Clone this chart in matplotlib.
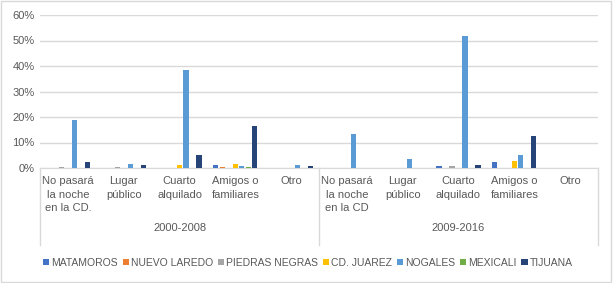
import numpy as np
import matplotlib.pyplot as plt
from matplotlib.transforms import blended_transform_factory
from matplotlib.ticker import PercentFormatter

plt.rcParams['font.family'] = ['Liberation Sans', 'DejaVu Sans']

# categories (two periods x five places)
categories = ["No pasará\nla noche\nen la CD.", "Lugar\npúblico", "Cuarto\nalquilado",
              "Amigos o\nfamiliares", "Otro",
              "No pasará\nla noche\nen la CD", "Lugar\npúblico", "Cuarto\nalquilado",
              "Amigos o\nfamiliares", "Otro"]
periods = ["2000-2008", "2009-2016"]

# series values in percent
matamoros = [0, 0, 0, 1.3, 0, 0, 0, 0.9, 2.3, 0]
nuevo_laredo = [0, 0, 0, 0.5, 0, 0, 0, 0, 0, 0]
piedras_negras = [0.4, 0.4, 0, 0, 0, 0, 0, 0.9, 0, 0]
cd_juarez = [0, 0, 1.3, 1.7, 0, 0, 0, 0, 2.7, 0]
nogales = [18.8, 1.7, 38.3, 0.9, 1.3, 13.3, 3.5, 51.6, 5.1, 0]
mexicali = [0, 0, 0, 0.4, 0, 0, 0, 0, 0, 0]
tijuana = [2.3, 1.3, 5.1, 16.4, 0.9, 0, 0, 1.2, 12.5, 0]

series = [("MATAMOROS", matamoros, "#4472C4"),
          ("NUEVO LAREDO", nuevo_laredo, "#ED7D31"),
          ("PIEDRAS NEGRAS", piedras_negras, "#A5A5A5"),
          ("CD. JUAREZ", cd_juarez, "#FFC000"),
          ("NOGALES", nogales, "#5B9BD5"),
          ("MEXICALI", mexicali, "#70AD47"),
          ("TIJUANA", tijuana, "#264478")]

text_color = "#595959"

fig = plt.figure(figsize=(6.13, 2.83), dpi=100)
ax = fig.add_axes([40/613, 1-168/283, 558/613, 153/283])

x = np.arange(len(categories))
step = 0.1165
for i, (name, vals, col) in enumerate(series):
    ax.bar(x + (i - 3) * step, vals, width=0.09, color=col, label=name, zorder=3)

ax.set_xlim(-0.5, len(categories) - 0.5)
ax.set_ylim(0, 60)
ax.set_yticks(np.arange(0, 61, 10))
ax.yaxis.set_major_formatter(PercentFormatter(decimals=0))
ax.grid(axis='y', color="#D9D9D9", linewidth=1, zorder=0)
for s in ['left', 'right', 'top']:
    ax.spines[s].set_visible(False)
ax.spines['bottom'].set_color("#D9D9D9")
ax.tick_params(axis='y', length=0, labelsize=8, labelcolor=text_color, pad=4)
ax.set_xticks(x)
ax.set_xticklabels(categories, fontsize=8, color=text_color, linespacing=1.4)
ax.tick_params(axis='x', length=0, pad=6)

# multi-level axis: separators and period labels
trans = blended_transform_factory(ax.transData, ax.transAxes)
for xv in [-0.5, 4.5, 9.5]:
    ax.plot([xv, xv], [0, -0.5], transform=trans, color="#D9D9D9", lw=1, clip_on=False)
for k, p in enumerate(periods):
    ax.text(2 + 5 * k, -0.39, p, transform=trans, ha='center', va='center',
            fontsize=8, color=text_color)

ax.legend(loc='center', bbox_to_anchor=(0.48, -0.62), ncol=7, frameon=False,
          fontsize=7.5, labelcolor=text_color, handlelength=0.6, handleheight=0.6,
          handletextpad=0.2, columnspacing=0.45)

# chart border
fig.patches.append(plt.Rectangle((0.002, 0.003), 0.995, 0.994, transform=fig.transFigure,
                                 fill=False, edgecolor="#D9D9D9", lw=1))

fig.savefig("out.png", dpi=100)
